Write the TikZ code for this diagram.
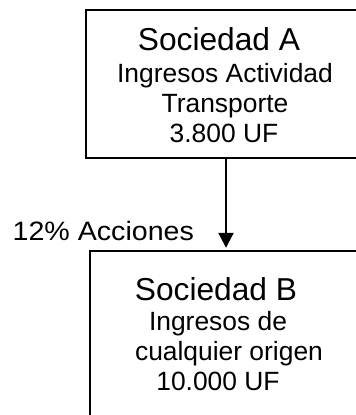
\documentclass[tikz,border=0pt]{standalone}
\usepackage{graphicx}
\usepackage{fontspec}
\setmainfont{Liberation Sans}
\usetikzlibrary{arrows.meta}
\tikzset{
  box/.style={draw=none, rectangle, inner sep=0pt},
  edge/.style={draw=black, line width=2pt},
  title/.style={anchor=base, inner sep=0pt, font=\fontsize{31.7}{36}\selectfont},
  body/.style={anchor=base, inner sep=0pt, font=\fontsize{26.4}{30}\selectfont},
  lbl/.style={anchor=base west, inner sep=0pt, font=\fontsize{26.6}{30}\selectfont},
  conn/.style={line width=2pt, -{Triangle[width=15pt,length=15pt]}}
}
\begin{document}
\begin{tikzpicture}[x=1pt,y=-1pt]
\useasboundingbox (0,0) rectangle (356,415);
\node[box, minimum width=270pt, minimum height=148pt] (A) at (221,84) {};
\node[box, minimum width=266pt, minimum height=164pt] (B) at (223,333) {};
\draw[edge] (A.north east) -- (A.north west) -- (A.south west) -- (A.south east);
\draw[edge] (B.north east) -- (B.north west) -- (B.south west);
\coordinate (ax) at (226,0);
\node[title] (a1) at (219,50) {Sociedad A};
\node[body] (a2) at (225,82) {Ingresos Actividad};
\node[body] (a3) at (225,112) {Transporte};
\node[body] (a4) at (224,142) {3.800 UF};
\node[title] (b1) at (216,300) {Sociedad B};
\node[body] (b2) at (218,330) {Ingresos de};
\node[body] (b3) at (229,360) {cualquier origen};
\node[body] (b4) at (218,390) {10.000 UF};
\node[lbl] (l) at (12.5,240.5) {\scalebox{1.075}[1]{12\% Acciones}};
\draw[conn] (A.south -| ax) -- ([yshift=3pt]B.north -| ax);
\end{tikzpicture}
\end{document}
